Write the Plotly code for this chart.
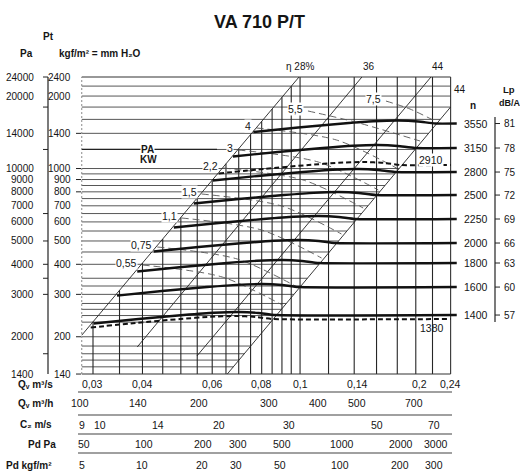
import numpy as np
import plotly.graph_objects as go

FONT = "Liberation Sans, Arial, Helvetica, sans-serif"
INK = "#151515"

# ---------------- data ----------------
speed_rpm = [3550, 3150, 2910, 2800, 2500, 2250, 2000, 1800, 1600, 1400, 1380]
speed_dashed = [False, False, True, False, False, False, False, False, False, False, True]
curve_q = [
    [0.0762, 0.0989, 0.1285, 0.1530, 0.1769, 0.1988, 0.2195],
    [0.0677, 0.0878, 0.1141, 0.1359, 0.1571, 0.1765, 0.1949],
    [0.0623, 0.0809, 0.1051, 0.1251, 0.1447, 0.1626, 0.1795],
    [0.0602, 0.0782, 0.1016, 0.1210, 0.1399, 0.1572, 0.1735],
    [0.0539, 0.0700, 0.0909, 0.1082, 0.1251, 0.1406, 0.1553],
    [0.0480, 0.0623, 0.0809, 0.0963, 0.1114, 0.1252, 0.1382],
    [0.0427, 0.0554, 0.0720, 0.0858, 0.0992, 0.1114, 0.1230],
    [0.0388, 0.0503, 0.0654, 0.0778, 0.0900, 0.1011, 0.1117],
    [0.0345, 0.0448, 0.0582, 0.0693, 0.0801, 0.0900, 0.0994],
    [0.0301, 0.0391, 0.0508, 0.0605, 0.0700, 0.0786, 0.0868],
    [0.0296, 0.0384, 0.0498, 0.0593, 0.0686, 0.0771, 0.0851],
]
curve_p = [
    [14180, 14810, 15380, 15710, 15830, 15690, 15380],
    [11220, 11715, 12166, 12427, 12522, 12411, 12166],
    [9536, 9960, 10343, 10565, 10646, 10552, 10343],
    [8915, 9311, 9669, 9877, 9952, 9864, 9669],
    [7152, 7470, 7758, 7924, 7985, 7914, 7758],
    [5688, 5940, 6169, 6301, 6349, 6293, 6169],
    [4521, 4721, 4903, 5008, 5047, 5002, 4903],
    [3734, 3899, 4050, 4136, 4168, 4131, 4050],
    [2966, 3098, 3217, 3286, 3312, 3282, 3217],
    [2270, 2371, 2462, 2515, 2534, 2512, 2462],
    [2185, 2282, 2370, 2421, 2439, 2418, 2370],
]
lp_rpm = [3550, 3150, 2800, 2500, 2250, 2000, 1800, 1600, 1400]
lp_dba = [81, 78, 75, 72, 69, 66, 63, 60, 57]

# absorbed power lines (kW)
power_kw = ["0,55", "0,75", "1,1", "1,5", "2,2", "3", "4", "5,5", "7,5"]
power_q = [
    [0.0400, 0.0636, 0.0902],
    [0.0436, 0.0694, 0.0984],
    [0.0502, 0.0799, 0.1133],
    [0.0564, 0.0898, 0.1272],
    [0.0640, 0.1018, 0.1443],
    [0.0698, 0.1111, 0.1576],
    [0.0776, 0.1236, 0.1752],
    [0.1047, 0.1377, 0.2009],
    [0.1648, 0.1895, 0.2192],
]
power_p = [
    [3973, 3542, 2710],
    [4720, 4208, 3219],
    [6230, 5554, 4249],
    [7838, 6988, 5346],
    [10050, 8960, 6855],
    [11940, 10644, 8143],
    [14740, 13135, 10050],
    [17340, 15610, 13010],
    [19070, 17670, 15750],
]

# efficiency / system lines (left 28%, 36%, 44%, right 44%)
eff_label = ["η 28%", "36", "44", "44"]
eff_q = [[0.0281, 0.0994], [0.0388, 0.1433], [0.0549, 0.2141], [0.0655, 0.24]]
eff_p = [[2030, 24000], [1813, 24000], [1664, 24000], [1400, 18010]]

# grid
q_grid = [0.030, 0.035, 0.040, 0.045, 0.050, 0.055, 0.060, 0.065, 0.070, 0.075,
          0.080, 0.085, 0.090, 0.095, 0.100, 0.118, 0.137, 0.156, 0.176, 0.196, 0.216]
p_grid = [22000, 20000, 18000, 16000, 14000, 12000, 10000, 9500, 9000, 8500, 8000,
          7500, 7000, 6500, 6000, 5500, 5000, 4500, 4000, 3500, 3250, 3000, 2750,
          2600, 2450, 2300, 2000, 1830, 1700, 1600, 1500]

# axes scales
pa_labels = [24000, 20000, 14000, 10000, 9000, 8000, 7000, 6000, 5000, 4000, 3000, 2000, 1400]
pa_ticks = [24000, 18000, 12000, 6500, 5000, 4000, 3500, 3000, 1700]
kgf_labels = [2400, 2000, 1400, 1000, 900, 800, 700, 600, 500, 400, 300, 200, 140]
kgf_ticks = [1400, 1000, 900, 800, 400, 300, 200, 140]
flow_m3s = [0.03, 0.04, 0.06, 0.08, 0.1, 0.14, 0.2, 0.24]
flow_m3s_text = ["0,03", "0,04", "0,06", "0,08", "0,1", "0,14", "0,2", "0,24"]
flow_m3h = [100, 140, 200, 300, 400, 500, 700]
outlet_c2 = [9, 10, 14, 20, 30, 50, 70]
pd_pa = [50, 100, 200, 300, 500, 1000, 2000, 3000]
pd_kgf = [5, 10, 20, 30, 50, 100, 200, 300]
OUTLET_AREA = 0.00312   # m2
RHO = 1.2

Q_LEFT, Q_RIGHT, Q_EXT = 0.0281, 0.24, 0.2487
P_BOT, P_TOP = 1400, 24000

# ---------------- geometry helpers ----------------
LX = np.log10
XR = [LX(0.03) + (81 - 93) / 396.0, LX(0.03) + (457 - 93) / 396.0]
YR = [LX(24000) - (375 - 77) / 240.7, LX(24000) + 1 / 240.7]


def xpx(px):
    return (px - 81) / 376.0


def ypx(py):
    return (375 - py) / 299.0


def xq(q):
    return (LX(q) - XR[0]) / (XR[1] - XR[0])


def yP(p):
    return (LX(p) - YR[0]) / (YR[1] - YR[0])


fig = go.Figure()

# grid lines
qa, pa = np.array(eff_q[0]), np.array(eff_p[0])
qd, pdd = np.array(eff_q[3]), np.array(eff_p[3])
hx, hy = [], []
for p in p_grid:
    qe = 10 ** np.interp(LX(p), LX(pdd), LX(qd))
    hx += [Q_LEFT, qe, None]
    hy += [p, p, None]
fig.add_trace(go.Scatter(x=hx, y=hy, mode="lines", line=dict(color="#444", width=0.9),
                         hoverinfo="skip"))
vx, vy = [], []
for q in q_grid:
    pt = 10 ** np.interp(LX(q), LX(qa), LX(pa))
    vx += [q, q, None]
    vy += [P_BOT, pt, None]
fig.add_trace(go.Scatter(x=vx, y=vy, mode="lines", line=dict(color="#262626", width=1.1),
                         hoverinfo="skip"))
# borders
fig.add_trace(go.Scatter(x=[Q_LEFT, Q_RIGHT, None, Q_RIGHT, Q_RIGHT, None, Q_LEFT, Q_RIGHT],
                         y=[P_TOP, P_TOP, None, P_BOT, P_TOP, None, P_BOT, P_BOT],
                         mode="lines", line=dict(color="#333", width=1.1), hoverinfo="skip"))
fig.add_trace(go.Scatter(x=[Q_LEFT, Q_LEFT], y=[P_BOT, P_TOP], mode="lines",
                         line=dict(color="#888", width=1, dash="2px,2px"), hoverinfo="skip"))

# efficiency lines
for q, p in zip(eff_q, eff_p):
    fig.add_trace(go.Scatter(x=q, y=p, mode="lines", line=dict(color="#222", width=0.9),
                             hoverinfo="skip"))

# power lines
for q, p in zip(power_q, power_p):
    fig.add_trace(go.Scatter(x=q, y=p, mode="lines", line=dict(color="#555", width=0.9, dash="7px,4px",
                                                             shape="spline", smoothing=0.8),
                             hoverinfo="skip"))

# fan curves
for n, dsh, q, p in zip(speed_rpm, speed_dashed, curve_q, curve_p):
    qend = Q_RIGHT if dsh else Q_EXT
    fig.add_trace(go.Scatter(x=q + [qend], y=p + [p[-1]], mode="lines", name=str(n),
                             line=dict(color="#111", width=2.0 if dsh else 2.4,
                                       dash="5px,3px" if dsh else "solid",
                                       shape="spline", smoothing=0.5),
                             hoverinfo="skip"))

# ---------------- annotations ----------------
ann = []


def text(x, y, s, size=10, bold=False, xanchor="center", yanchor="middle", bg=None, **kw):
    font = dict(family=FONT, size=size, color=INK)
    if bold:
        font["weight"] = "bold"
    d = dict(x=x, y=y, xref="paper", yref="paper", text=s,
             showarrow=False, font=font, xanchor=xanchor, yanchor=yanchor)
    if bg:
        d.update(bgcolor=bg, borderpad=0)
    d.update(kw)
    ann.append(d)


text(xpx(259), ypx(22), "VA 710 P/T", size=18, bold=True)
text(xpx(48), ypx(36), "Pt", size=10, bold=True)
text(xpx(26), ypx(53), "Pa", size=10, bold=True)
text(xpx(57), ypx(53), "kgf/m² = mm H₂O", size=10, bold=True, xanchor="left")

for v in pa_labels:
    text(xpx(36), yP(v), str(v), size=10, xanchor="right")
for v in kgf_labels:
    text(xpx(73), yP(v * 10), str(v), size=10, xanchor="right")

# power labels at start of their lines
for lab, q, p in zip(power_kw, power_q, power_p):
    text(xq(q[0]), yP(p[0]), lab, size=10.5, xanchor="right", bg="white", xshift=-4, yshift=2)
text(xpx(147), ypx(149), "PA", size=10, bold=True, bg="white")
text(xpx(148), ypx(159), "KW", size=10, bold=True, bg="white")

# efficiency labels
text(xq(eff_q[0][1]), ypx(66), eff_label[0], size=10, xshift=1)
text(xq(eff_q[1][1]), ypx(66), eff_label[1], size=10, xshift=7)
text(xq(eff_q[2][1]), ypx(66), eff_label[2], size=10, xshift=7)
text(xpx(460), ypx(90), eff_label[3], size=10)

# speed labels
for n, dsh, p in zip(speed_rpm, speed_dashed, curve_p):
    if not dsh:
        text(xpx(475.5), yP(p[-1]), str(n), size=10.5)
text(xpx(431), ypx(160), "2910", size=10.5, bg="white")
text(xpx(432), ypx(328), "1380", size=10.5)
text(xpx(473), ypx(105), "n", size=10, bold=True)
text(xpx(509), ypx(90), "Lp", size=9.5, bold=True)
text(xpx(509), ypx(103), "dB/A", size=9, bold=True)
for n, db in zip(lp_rpm, lp_dba):
    p_end = curve_p[speed_rpm.index(n)][-1]
    text(xpx(510), yP(p_end), str(db), size=10)

# bottom scales
rows = [384, 403, 425, 444, 465]
text(xpx(55), ypx(rows[0]), "Qᵥ m³/s", size=10, bold=True, xanchor="right")
text(xpx(55), ypx(rows[1]), "Qᵥ m³/h", size=10, bold=True, xanchor="right")
text(xpx(54), ypx(rows[2]), "C₂ m/s", size=10, bold=True, xanchor="right")
text(xpx(58), ypx(rows[3]), "Pd Pa", size=10, bold=True, xanchor="right")
text(xpx(54), ypx(rows[4]), "Pd kgf/m²", size=10, bold=True, xanchor="right")
for q, s in zip(flow_m3s, flow_m3s_text):
    text(xq(q), ypx(rows[0]), s, size=10.5)
for v in flow_m3h:
    text(xq(v / 3600.0), ypx(rows[1]), str(v), size=10.5)
for v in outlet_c2:
    text(xq(v * OUTLET_AREA), ypx(rows[2]), str(v), size=10.5)
for v in pd_pa:
    text(xq(OUTLET_AREA * np.sqrt(2 * v / RHO)), ypx(rows[3]), str(v), size=10.5)
for v in pd_kgf:
    text(xq(OUTLET_AREA * np.sqrt(2 * v * 9.81 / RHO)), ypx(rows[4]), str(v), size=10.5)

# ---------------- shapes ----------------
shapes = []


def seg(x0, y0, x1, y1, color="#222", width=1.0):
    shapes.append(dict(type="line", xref="paper", yref="paper", x0=x0, y0=y0, x1=x1, y1=y1,
                       line=dict(color=color, width=width)))


seg(xpx(48), yP(24000), xpx(48), yP(1400), width=1.2)
for v in pa_ticks:
    seg(xpx(43), yP(v), xpx(48), yP(v), width=1.0)
for v in kgf_ticks:
    seg(xpx(76), yP(v * 10), xpx(81), yP(v * 10), width=1.0)
seg(xpx(495), ypx(117), xpx(495), ypx(322), width=1.2)
for n in lp_rpm:
    p_end = curve_p[speed_rpm.index(n)][-1]
    seg(xpx(495), yP(p_end), xpx(500), yP(p_end), width=1.0)
for yy in [392, 415, 434, 453]:
    seg(xpx(78), ypx(yy), xpx(452), ypx(yy), color="#808080", width=1.3)
# PA / KW leader
seg(xpx(82), yP(12000), xpx(217), yP(12000), color="#222", width=1.3)

fig.update_layout(
    width=520, height=471, autosize=False,
    margin=dict(l=81, r=63, t=76, b=96, pad=0),
    paper_bgcolor="white", plot_bgcolor="white",
    showlegend=False,
    xaxis=dict(type="log", range=XR, visible=False),
    yaxis=dict(type="log", range=YR, visible=False),
    annotations=ann, shapes=shapes,
)

fig.write_html("out.html", config={"displayModeBar": False},
               post_script="document.body.style.margin='0px';document.body.style.overflow='hidden';")
